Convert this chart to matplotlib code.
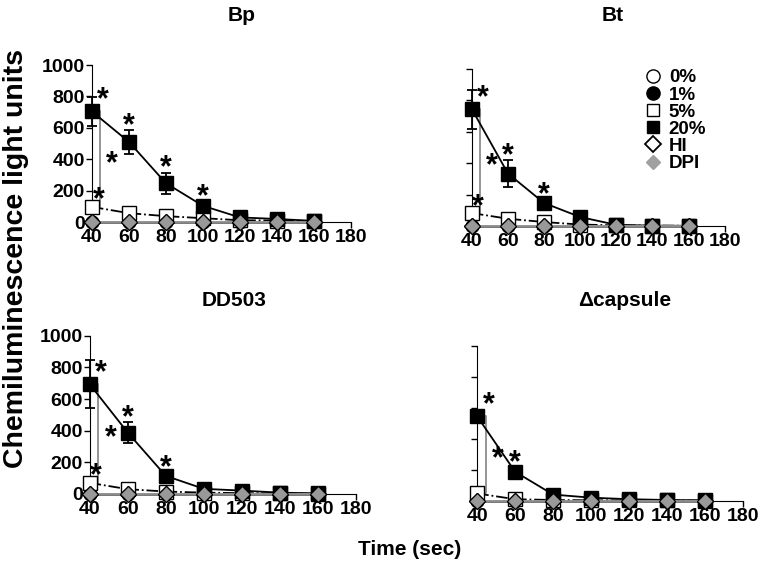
import numpy as np
import matplotlib.pyplot as plt
from matplotlib.lines import Line2D

plt.rcParams['font.family'] = ['Liberation Sans', 'DejaVu Sans']
plt.rcParams['font.weight'] = 'bold'

time = [40, 60, 80, 100, 120, 140, 160]

# Bp
bp_20 = [705, 511, 248, 104, 30, 20, 8]
bp_20_err = [90, 77, 67, 30, 0, 0, 0]
bp_5 = [97, 57, 38, 25, 12, 10, 5]
# Bt
bt_20 = [745, 335, 147, 58, 8, 3, 2]
bt_20_err = [125, 87, 25, 0, 0, 0, 0]
bt_5 = [83, 47, 26, 10, 5, 3, 2]
# DD503
dd_20 = [694, 388, 114, 32, 21, 8, 3]
dd_20_err = [150, 65, 25, 0, 0, 0, 0]
dd_5 = [70, 30, 15, 8, 5, 3, 2]
# capsule mutant
cap_20 = [545, 187, 40, 20, 10, 5, 3]
cap_20_err = [0, 30, 0, 0, 0, 0, 0]
cap_5 = [47, 10, 5, 3, 2, 2, 1]

zero = [0, 0, 0, 0, 0, 0, 0]
pct0 = zero
pct1 = zero
hi = zero
dpi = zero

# significance flags for the 20% series (first point gets its star to the side)
bp_sig = [1, 1, 1, 1, 0, 0, 0]
bt_sig = [1, 1, 1, 0, 0, 0, 0]
dd_sig = [1, 1, 1, 0, 0, 0, 0]
cap_sig = [1, 1, 0, 0, 0, 0, 0]

panels = [
    ('Bp', bp_20, bp_20_err, bp_5, bp_sig, True),
    ('Bt', bt_20, bt_20_err, bt_5, bt_sig, True),
    ('DD503', dd_20, dd_20_err, dd_5, dd_sig, True),
    ('\u0394capsule', cap_20, cap_20_err, cap_5, cap_sig, False),
]

positions = [
    [0.120, 0.611, 0.338, 0.275],
    [0.616, 0.604, 0.330, 0.275],
    [0.117, 0.135, 0.348, 0.277],
    [0.623, 0.123, 0.347, 0.271],
]
title_pos = [(0.315, 0.972), (0.800, 0.972), (0.305, 0.474), (0.815, 0.474)]

fig = plt.figure(figsize=(7.66, 5.71), dpi=100)

for k, (name, v20, e20, v5, sig, star5) in enumerate(panels):
    ax = fig.add_axes(positions[k])
    ax.plot(time, pct0, '-', color='k', lw=1, marker='o', ms=9, mfc='white', mec='k', clip_on=False, zorder=2)
    ax.plot(time, pct1, '-', color='k', lw=1, marker='o', ms=9, mfc='k', mec='k', clip_on=False, zorder=2)
    ax.errorbar(time, v20, yerr=e20, fmt='-s', color='k', lw=1.3, ms=9.5, mfc='k', mec='k',
                capsize=3.5, elinewidth=1.3, capthick=1.3, clip_on=False, zorder=3)
    ax.plot(time, v5, '-.', color='k', lw=1.3, marker='s', ms=9.5, mfc='white', mec='k', clip_on=False, zorder=3)
    ax.plot(time, hi, '-', color='k', lw=1, marker='D', ms=8.5, mfc='white', mec='k', clip_on=False, zorder=4)
    ax.plot(time, dpi, '-', color='#999999', lw=1.3, marker='D', ms=8.5, mfc='#999999', mec='k',
            mew=0.8, clip_on=False, zorder=5)

    # bracket between 20% and 5% at the first time point
    ax.plot([time[0] + 2, 44.5, 44.5, time[0] + 2], [v20[0], v20[0], v5[0], v5[0]],
            color='#8c8c8c', lw=1.3, clip_on=False, zorder=1)
    ax.text(51, (v20[0] + v5[0]) / 2 - 30, '*', fontsize=22, ha='center', va='center')

    for i, s in enumerate(sig):
        if not s:
            continue
        if i == 0:
            ax.text(46, v20[0] + 70, '*', fontsize=22, ha='center', va='center')
        else:
            ax.text(time[i], v20[i] + e20[i] + 25, '*', fontsize=22, ha='center', va='center')
    if star5:
        ax.text(43.5, v5[0] + 40, '*', fontsize=22, ha='center', va='center')

    ax.set_xlim(40, 180)
    ax.set_ylim(0, 1000)
    ax.set_xticks(np.arange(40, 181, 20))
    ax.set_yticks(np.arange(0, 1001, 200))
    ax.spines['top'].set_visible(False)
    ax.spines['right'].set_visible(False)
    ax.tick_params(direction='out', length=4, width=1, labelsize=14, pad=1)
    for lab in ax.get_xticklabels() + ax.get_yticklabels():
        lab.set_fontweight('bold')
    if k % 2 == 1:
        ax.set_yticklabels([])
    fig.text(title_pos[k][0], title_pos[k][1], name, fontsize=15, fontweight='bold', ha='center', va='center')

    if k == 1:
        handles = [
            Line2D([], [], ls='none', marker='o', ms=9.5, mfc='white', mec='k'),
            Line2D([], [], ls='none', marker='o', ms=9.5, mfc='k', mec='k'),
            Line2D([], [], ls='none', marker='s', ms=9, mfc='white', mec='k'),
            Line2D([], [], ls='none', marker='s', ms=9, mfc='k', mec='k'),
            Line2D([], [], ls='none', marker='D', ms=8, mfc='white', mec='k', mew=1.3),
            Line2D([], [], ls='none', marker='D', ms=7, mfc='#a0a0a0', mec='#a0a0a0'),
        ]
        labels = ['0%', '1%', '5%', '20%', 'HI', 'DPI']
        fig.legend(handles, labels, loc='upper left', bbox_to_anchor=(0.829, 0.895),
                   frameon=False, handlelength=0.9, handletextpad=0.4,
                   labelspacing=0.0, borderpad=0, prop={'weight': 'bold', 'size': 13.5})

fig.text(0.021, 0.547, 'Chemiluminescence light units', rotation=90, fontsize=20.5,
         fontweight='bold', ha='center', va='center')
fig.text(0.535, 0.037, 'Time (sec)', fontsize=15, fontweight='bold', ha='center', va='center')

fig.savefig('out.png', dpi=100)
